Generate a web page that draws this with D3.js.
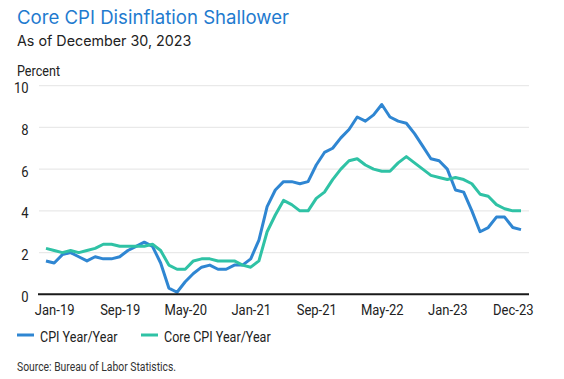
<!DOCTYPE html>
<html>
<head>
<meta charset="utf-8">
<script src="https://cdn.jsdelivr.net/npm/d3@7"></script>
<style>
  body { margin: 0; background: #fff; }
  svg text { font-family: "Roboto", sans-serif; fill: #222; }
  .title { font-family: "Inter", "Roboto", sans-serif; }
</style>
</head>
<body>
<div id="chart"></div>
<script>
// monthly YoY %, Jan-19 .. Nov-23
var cpi = [
    1.6, 1.5, 1.9, 2.0, 1.8, 1.6, 1.8, 1.7, 1.7, 1.8, 2.1, 2.3,
    2.5, 2.3, 1.5, 0.3, 0.1, 0.6, 1.0, 1.3, 1.4, 1.2, 1.2, 1.4,
    1.4, 1.7, 2.6, 4.2, 5.0, 5.4, 5.4, 5.3, 5.4, 6.2, 6.8, 7.0,
    7.5, 7.9, 8.5, 8.3, 8.6, 9.1, 8.5, 8.3, 8.2, 7.7, 7.1, 6.5,
    6.4, 6.0, 5.0, 4.9, 4.0, 3.0, 3.2, 3.7, 3.7, 3.2, 3.1
];
var coreCpi = [
    2.2, 2.1, 2.0, 2.1, 2.0, 2.1, 2.2, 2.4, 2.4, 2.3, 2.3, 2.3,
    2.3, 2.4, 2.1, 1.4, 1.2, 1.2, 1.6, 1.7, 1.7, 1.6, 1.6, 1.6,
    1.4, 1.3, 1.6, 3.0, 3.8, 4.5, 4.3, 4.0, 4.0, 4.6, 4.9, 5.5,
    6.0, 6.4, 6.5, 6.2, 6.0, 5.9, 5.9, 6.3, 6.6, 6.3, 6.0, 5.7,
    5.6, 5.5, 5.6, 5.5, 5.3, 4.8, 4.7, 4.3, 4.1, 4.0, 4.0
];
var tickLabels = ["Jan-19", "Sep-19", "May-20", "Jan-21", "Sep-21", "May-22", "Jan-23", "Dec-23"];
var tickIndex  = [1, 9, 17, 25, 33, 41, 49, 57];
var yTicks = [0, 2, 4, 6, 8, 10];
var seriesNames = ["CPI Year/Year", "Core CPI Year/Year"];
var colors = ["#2f86d2", "#2fc2a5"];

var width = 564, height = 379;
var squeeze = 0.84;   // the chart's label font is a condensed face

var svg = d3.select("#chart")
    .append("svg")
    .attr("width", width)
    .attr("height", height);

var x = d3.scaleLinear().domain([0, cpi.length - 1]).range([46, 521]);
var y = d3.scaleLinear().domain([0, 10]).range([294.3, 85.7]);

// condensed text placed at (px, py)
function label(px, py, str, size, anchor, sq) {
    return svg.append("text")
        .attr("transform", "translate(" + px + "," + py + ") scale(" + (sq || squeeze) + ",1)")
        .attr("text-anchor", anchor || "start")
        .style("font-size", size + "px")
        .text(str);
}

// titles
svg.append("text").attr("class", "title")
    .attr("x", 17).attr("y", 24)
    .style("font-size", "18.6px").style("fill", "#1f7bcf")
    .text("Core CPI Disinflation Shallower");
svg.append("text").attr("class", "title")
    .attr("x", 17).attr("y", 46)
    .style("font-size", "14.3px").style("fill", "#222")
    .text("As of December 30, 2023");
label(17, 76, "Percent", 15);

// grid
svg.selectAll(".grid")
    .data(yTicks.filter(function(d) { return d > 0; }))
    .enter()
    .append("line")
    .attr("x1", 39).attr("x2", 529)
    .attr("y1", function(d) { return y(d); })
    .attr("y2", function(d) { return y(d); })
    .style("stroke", "#e9e9e9")
    .style("stroke-width", 1.2);

// y labels
yTicks.forEach(function(d) {
    label(28.5, y(d) + 7.5, d, 15.5, "end");
});

// lines
var line = d3.line()
    .x(function(d, i) { return x(i); })
    .y(function(d) { return y(d); });

[cpi, coreCpi].forEach(function(s, k) {
    svg.append("path")
        .datum(s)
        .attr("d", line)
        .style("fill", "none")
        .style("stroke", colors[k])
        .style("stroke-width", 3)
        .style("stroke-linejoin", "round");
});

// zero axis
svg.append("line")
    .attr("x1", 38).attr("x2", 529)
    .attr("y1", y(0)).attr("y2", y(0))
    .style("stroke", "#1a1a1a")
    .style("stroke-width", 2);

// x labels
var xAxis = d3.axisBottom(x)
    .tickValues(tickIndex)
    .tickSize(0)
    .tickPadding(0)
    .tickFormat(function(d, i) { return tickLabels[i]; });

var gx = svg.append("g")
    .attr("transform", "translate(0," + 315 + ")")
    .call(xAxis);
gx.select(".domain").remove();
gx.selectAll("text")
    .attr("dy", 0)
    .attr("y", 0)
    .attr("transform", "scale(" + squeeze + ",1)")
    .style("font-size", "15.5px")
    .style("font-family", "Roboto, sans-serif")
    .style("fill", "#222");

// legend
var legX = [17, 141];
seriesNames.forEach(function(name, k) {
    svg.append("line")
        .attr("x1", legX[k]).attr("x2", legX[k] + 17)
        .attr("y1", 335).attr("y2", 335)
        .style("stroke", colors[k])
        .style("stroke-width", 3);
    label(legX[k] + 23, 341.5, name, 15.3, "start", 0.82);
});

label(17, 371, "Source: Bureau of Labor Statistics.", 13.3, "start", 0.78).style("fill", "#333");
</script>
</body>
</html>
